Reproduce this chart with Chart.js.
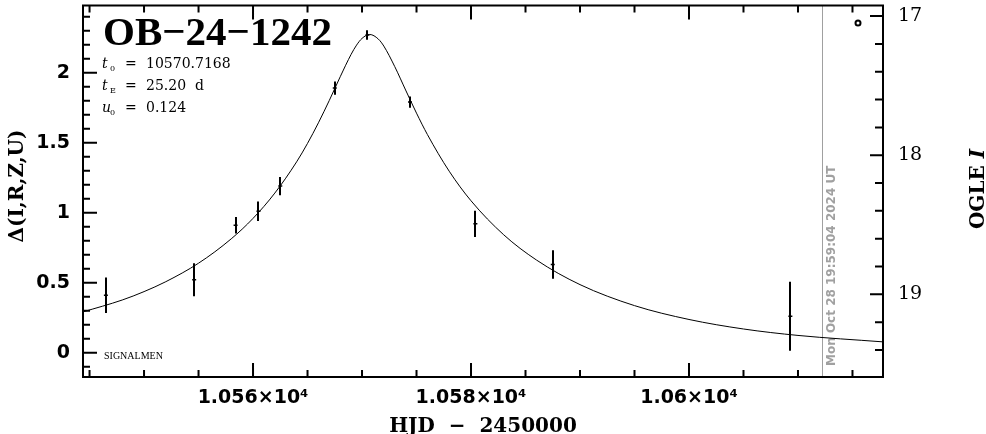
<!DOCTYPE html>
<html lang="en">
<head>
<meta charset="UTF-8">
<title>OB-24-1242</title>
<script src="https://cdn.jsdelivr.net/npm/chart.js"></script>
<style>
  html, body { margin: 0; padding: 0; background: #fff; }
</style>
</head>
<body>
<canvas id="lc" width="986" height="434"></canvas>
<script>
// OGLE points: HJD - 2450000, delta mag, error
const obsHJD   = [10546.5, 10554.6, 10558.4, 10560.5, 10562.5, 10567.5, 10570.5, 10574.4, 10580.4, 10587.5, 10609.3];
const obsDelta = [0.41, 0.52, 0.91, 1.01, 1.19, 1.89, 2.27, 1.79, 0.92, 0.63, 0.26];
const obsErr   = [0.127, 0.118, 0.059, 0.070, 0.065, 0.047, 0.034, 0.040, 0.094, 0.102, 0.247];

// model curve
const modelHJD   = [10544.4, 10548, 10550, 10552, 10555, 10558, 10560, 10562, 10564, 10565, 10566, 10567, 10568, 10569, 10569.5, 10570, 10570.7, 10571.5, 10572, 10573, 10574, 10575, 10576, 10578, 10580, 10583, 10586, 10590, 10595, 10600, 10605, 10610, 10617.8];
const modelDelta = [0.291, 0.376, 0.436, 0.507, 0.639, 0.813, 0.959, 1.140, 1.363, 1.495, 1.642, 1.802, 1.971, 2.131, 2.197, 2.245, 2.273, 2.240, 2.190, 2.044, 1.876, 1.711, 1.558, 1.296, 1.085, 0.842, 0.662, 0.486, 0.336, 0.237, 0.169, 0.123, 0.077];

// axis ranges
const xRange = [10544.4, 10617.8];
const dRange = [-0.174, 2.48];
const magRange = [16.924, 19.594];
const nowHJD = 10612.2;   // time of plotting

const eventName = 'OB\u221224\u22121242';
const params = [['t', '0', '10570.7168'], ['t', 'E', '25.20  d'], ['u', '0', '0.124']];
const stamp = 'Mon Oct 28 19:59:04 2024 UT';

const tickFont = { family: 'DejaVu Sans', weight: 'bold', size: 19 };

const isWhole = (v, s) => Math.abs(v / s - Math.round(v / s)) < 1e-6;

const decor = {
  id: 'decor',
  beforeDatasetsDraw(chart) {
    const { ctx, chartArea: a, scales } = chart;
    const px = Math.round(scales.x.getPixelForValue(nowHJD)) + 0.5;
    ctx.save();
    ctx.strokeStyle = '#a0a0a0';
    ctx.lineWidth = 1;
    ctx.beginPath(); ctx.moveTo(px, a.top); ctx.lineTo(px, a.bottom); ctx.stroke();
    ctx.fillStyle = '#a0a0a0';
    ctx.font = 'bold 12px "DejaVu Sans"';
    ctx.translate(px + 12, a.bottom - 11);
    ctx.rotate(-Math.PI / 2);
    ctx.textAlign = 'left';
    ctx.fillText(stamp, 0, 0);
    ctx.restore();
  },
  afterDatasetsDraw(chart) {
    const { ctx, scales } = chart;
    ctx.save();
    ctx.strokeStyle = '#000';
    ctx.lineWidth = 2;
    obsHJD.forEach((t, i) => {
      const px = Math.round(scales.x.getPixelForValue(t));
      ctx.beginPath();
      ctx.moveTo(px, scales.y.getPixelForValue(obsDelta[i] - obsErr[i]));
      ctx.lineTo(px, scales.y.getPixelForValue(obsDelta[i] + obsErr[i]));
      ctx.stroke();
    });
    ctx.restore();
  },
  afterDraw(chart) {
    const { ctx, chartArea: a, scales } = chart;
    ctx.save();
    ctx.strokeStyle = '#000';
    ctx.fillStyle = '#000';
    ctx.lineWidth = 2;
    ctx.strokeRect(a.left, a.top, a.right - a.left, a.bottom - a.top);

    // ticks drawn inside the frame
    ctx.beginPath();
    scales.x.ticks.forEach(t => {
      const p = scales.x.getPixelForValue(t.value);
      const len = t.label ? 14 : 7;
      ctx.moveTo(p, a.bottom); ctx.lineTo(p, a.bottom - len);
      ctx.moveTo(p, a.top); ctx.lineTo(p, a.top + len);
    });
    scales.y.ticks.forEach(t => {
      const p = scales.y.getPixelForValue(t.value);
      const len = t.label ? 14 : 7;
      ctx.moveTo(a.left, p); ctx.lineTo(a.left + len, p);
    });
    scales.y2.ticks.forEach(t => {
      const p = scales.y2.getPixelForValue(t.value);
      const len = t.label ? 13 : 8;
      ctx.moveTo(a.right, p); ctx.lineTo(a.right - len, p);
    });
    ctx.stroke();

    // event name and fit parameters
    ctx.font = 'bold 41px "Liberation Serif"';
    ctx.textBaseline = 'alphabetic';
    ctx.fillText(eventName, a.left + 20, 45);
    params.forEach((p, i) => {
      const base = 68 + i * 22;
      ctx.font = 'italic 14px "DejaVu Serif"';
      ctx.fillText(p[0], a.left + 19, base);
      ctx.font = '8px "DejaVu Serif"';
      ctx.fillText(p[1], a.left + 27, base + 3);
      ctx.font = '14px "DejaVu Serif"';
      ctx.fillText('=', a.left + 42, base);
      ctx.fillText(p[2], a.left + 63, base);
    });
    ctx.font = '10px "Liberation Serif"';
    ctx.fillText('SIGNALMEN', a.left + 21, 359);

    // legend symbol
    ctx.beginPath();
    ctx.arc(a.right - 25, 23, 2.5, 0, Math.PI * 2);
    ctx.stroke();

    // axis titles
    ctx.font = 'bold 20px "DejaVu Serif"';
    ctx.textAlign = 'center';
    ctx.fillText('HJD  \u2212  2450000', (a.left + a.right) / 2, 432);

    ctx.save();
    ctx.translate(23, 186);
    ctx.rotate(-Math.PI / 2);
    ctx.fillText('\u0394(I,R,Z,U)', 0, 0);
    ctx.restore();

    ctx.save();
    ctx.translate(984, 189);
    ctx.rotate(-Math.PI / 2);
    ctx.textAlign = 'left';
    const w1 = ctx.measureText('OGLE ').width;
    ctx.font = 'bold italic 20px "DejaVu Serif"';
    const w2 = ctx.measureText('I').width;
    ctx.font = 'bold 20px "DejaVu Serif"';
    ctx.fillText('OGLE ', -(w1 + w2) / 2, 0);
    ctx.font = 'bold italic 20px "DejaVu Serif"';
    ctx.fillText('I', -(w1 + w2) / 2 + w1, 0);
    ctx.restore();

    ctx.restore();
  }
};

new Chart(document.getElementById('lc'), {
  type: 'scatter',
  data: {
    datasets: [
      {
        type: 'line',
        data: modelHJD.map((t, i) => ({ x: t, y: modelDelta[i] })),
        borderColor: '#000',
        borderWidth: 1,
        pointRadius: 0,
        cubicInterpolationMode: 'monotone',
        fill: false
      },
      {
        data: obsHJD.map((t, i) => ({ x: t, y: obsDelta[i] })),
        pointStyle: 'line',
        pointRadius: 2,
        borderColor: '#000',
        borderWidth: 1.5,
        backgroundColor: '#000'
      }
    ]
  },
  options: {
    responsive: false,
    animation: false,
    devicePixelRatio: 1,
    layout: { padding: { top: 1, left: 0, right: 0, bottom: 0 } },
    plugins: { legend: { display: false }, tooltip: { enabled: false } },
    scales: {
      x: {
        type: 'linear',
        position: 'bottom',
        min: xRange[0],
        max: xRange[1],
        grid: { display: false, drawTicks: false },
        border: { display: false },
        ticks: {
          stepSize: 5,
          includeBounds: false,
          autoSkip: false,
          maxRotation: 0,
          padding: 10,
          color: '#000',
          font: tickFont,
          callback: v => isWhole(v, 20) ? (v / 1e4) + '\u00d710\u2074' : ''
        },
        afterFit: s => { s.height = 57; s.paddingLeft = 0; s.paddingRight = 0; }
      },
      y: {
        position: 'left',
        min: dRange[0],
        max: dRange[1],
        grid: { display: false, drawTicks: false },
        border: { display: false },
        ticks: {
          stepSize: 0.1,
          includeBounds: false,
          autoSkip: false,
          padding: 13,
          color: '#000',
          font: tickFont,
          callback: v => isWhole(v, 0.5) ? String(Math.round(v * 10) / 10) : ''
        },
        afterFit: s => { s.width = 83; s.paddingTop = 0; s.paddingBottom = 0; }
      },
      y2: {
        position: 'right',
        reverse: true,
        min: magRange[0],
        max: magRange[1],
        grid: { display: false, drawTicks: false },
        border: { display: false },
        ticks: {
          stepSize: 0.2,
          includeBounds: false,
          autoSkip: false,
          padding: 15,
          color: '#000',
          font: { family: 'DejaVu Serif', size: 19 },
          callback: v => isWhole(v, 1) ? String(Math.round(v)) : ''
        },
        afterFit: s => { s.width = 103; s.paddingTop = 0; s.paddingBottom = 0; }
      }
    }
  },
  plugins: [decor]
});
</script>
</body>
</html>
